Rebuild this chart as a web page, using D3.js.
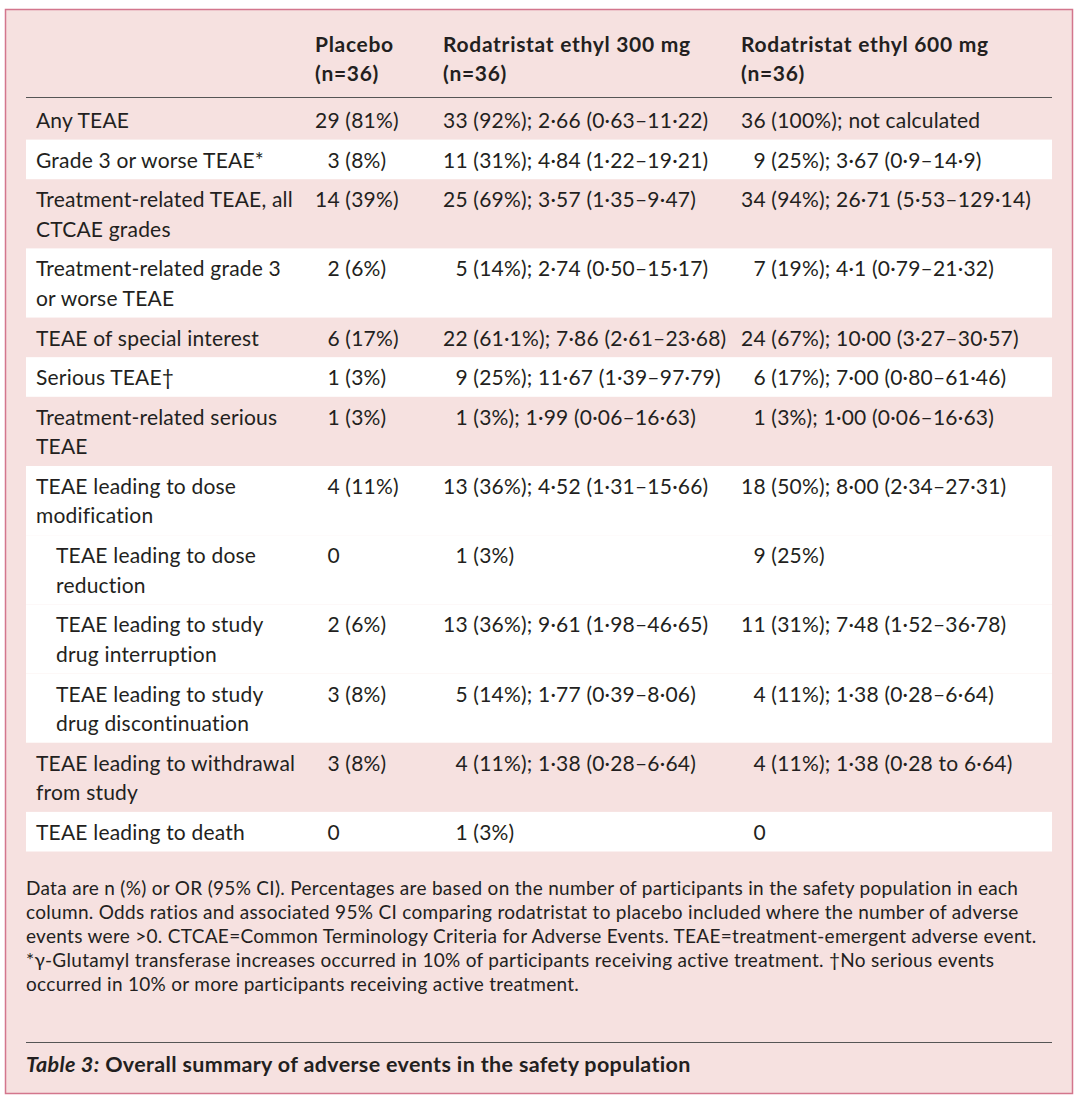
<!DOCTYPE html>
<html><head><meta charset="utf-8">
<script src="https://cdn.jsdelivr.net/npm/d3@7"></script>
<style>html,body{margin:0;padding:0;background:#fff}svg{display:block}text{font-family:Lato,"Noto Sans",sans-serif;fill:#231f20}</style>
</head><body>
<script>
const headers = [["Placebo","(n=36)"],["Rodatristat ethyl 300 mg","(n=36)"],["Rodatristat ethyl 600 mg","(n=36)"]];
const rowLabels = [
  ["Any TEAE"],
  ["Grade 3 or worse TEAE*"],
  ["Treatment-related TEAE, all","CTCAE grades"],
  ["Treatment-related grade 3","or worse TEAE"],
  ["TEAE of special interest"],
  ["Serious TEAE†"],
  ["Treatment-related serious","TEAE"],
  ["TEAE leading to dose","modification"],
  ["TEAE leading to dose","reduction"],
  ["TEAE leading to study","drug interruption"],
  ["TEAE leading to study","drug discontinuation"],
  ["TEAE leading to withdrawal","from study"],
  ["TEAE leading to death"]
];
const indented = [false,false,false,false,false,false,false,false,true,true,true,false,false];
const groups = [0,1,2,3,4,5,6,7,7,7,7,8,9];
const placebo = ["29 (81%)","3 (8%)","14 (39%)","2 (6%)","6 (17%)","1 (3%)","1 (3%)","4 (11%)","0","2 (6%)","3 (8%)","3 (8%)","0"];
const rod300 = ["33 (92%); 2·66 (0·63–11·22)","11 (31%); 4·84 (1·22–19·21)","25 (69%); 3·57 (1·35–9·47)","5 (14%); 2·74 (0·50–15·17)","22 (61·1%); 7·86 (2·61–23·68)","9 (25%); 11·67 (1·39–97·79)","1 (3%); 1·99 (0·06–16·63)","13 (36%); 4·52 (1·31–15·66)","1 (3%)","13 (36%); 9·61 (1·98–46·65)","5 (14%); 1·77 (0·39–8·06)","4 (11%); 1·38 (0·28–6·64)","1 (3%)"];
const rod600 = ["36 (100%); not calculated","9 (25%); 3·67 (0·9–14·9)","34 (94%); 26·71 (5·53–129·14)","7 (19%); 4·1 (0·79–21·32)","24 (67%); 10·00 (3·27–30·57)","6 (17%); 7·00 (0·80–61·46)","1 (3%); 1·00 (0·06–16·63)","18 (50%); 8·00 (2·34–27·31)","9 (25%)","11 (31%); 7·48 (1·52–36·78)","4 (11%); 1·38 (0·28–6·64)","4 (11%); 1·38 (0·28 to 6·64)","0"];
const footnoteLines = [
  "Data are n (%) or OR (95% CI). Percentages are based on the number of participants in the safety population in each",
  "column. Odds ratios and associated 95% CI comparing rodatristat to placebo included where the number of adverse",
  "events were >0. CTCAE=Common Terminology Criteria for Adverse Events. TEAE=treatment-emergent adverse event.",
  "*γ-Glutamyl transferase increases occurred in 10% of participants receiving active treatment. †No serious events",
  "occurred in 10% or more participants receiving active treatment."
];
const captionLabel = "Table 3:";
const captionText = " Overall summary of adverse events in the safety population";

const W = 1080, H = 1100;
const pink = "#f6e1e0", border = "#d3768d";
const svg = d3.select("body").append("svg").attr("width", W).attr("height", H);
svg.append("rect").attr("width", W).attr("height", H).attr("fill", "#fff");
svg.append("rect").attr("x", 5.5).attr("y", 9.5).attr("width", 1067).attr("height", 1084)
  .attr("fill", pink).attr("stroke", border).attr("stroke-width", 1.5);

const left = 26, right = 1052;
const lineH = 29.5, pad = 10;
const FS = 21, LS = 0.2;
const units = rowLabels.map(l => l.length * lineH + pad);
const ends = Array.from(d3.cumsum(units));
const starts = ends.map((e, i) => e - units[i]);
const y = d3.scaleLinear().domain([0, d3.sum(units)]).range([100, 851.5]);
const colX = d3.scaleOrdinal().domain(["label","placebo","rod300","rod600"]).range([36, 315, 443, 741]);

// header
const hdrKeys = ["placebo","rod300","rod600"];
headers.forEach((h, i) => {
  h.forEach((t, j) => {
    svg.append("text").attr("x", colX(hdrKeys[i])).attr("y", 52 + j * 29)
      .attr("font-size", 21).attr("font-weight", 700).attr("letter-spacing", 0.7).text(t);
  });
});
svg.append("line").attr("x1", left).attr("x2", right).attr("y1", 97.5).attr("y2", 97.5)
  .attr("stroke", "#555").attr("stroke-width", 1);

// row backgrounds
const rowsG = svg.append("g");
rowLabels.forEach((l, i) => {
  if (groups[i] % 2 === 1) {
    rowsG.append("rect").attr("x", left).attr("width", right - left)
      .attr("y", y(starts[i])).attr("height", y(ends[i]) - y(starts[i])).attr("fill", "#fff");
  }
});

// measure digit width
const probe = svg.append("text").attr("font-size", FS).attr("letter-spacing", LS).text("00");
const digitW = probe.node().getComputedTextLength() / 2;
probe.remove();

function offset(str) {
  const m = str.match(/^(\d+)/);
  return (m && m[1].length === 1) ? digitW : 0;
}

rowLabels.forEach((lines, i) => {
  const top = y(starts[i]);
  lines.forEach((t, j) => {
    svg.append("text").attr("x", colX("label") + (indented[i] ? 20 : 0))
      .attr("y", top + 28 + j * lineH).attr("font-size", FS).attr("letter-spacing", LS).text(t);
  });
  [["placebo", placebo[i]], ["rod300", rod300[i]], ["rod600", rod600[i]]].forEach(([k, v]) => {
    svg.append("text").attr("x", colX(k) + offset(v)).attr("y", top + 28)
      .attr("font-size", FS).attr("letter-spacing", LS).text(v);
  });
});

// footnote
footnoteLines.forEach((t, i) => {
  svg.append("text").attr("x", left).attr("y", 895 + i * 24).attr("font-size", 19)
    .attr("letter-spacing", 0.3).text(t);
});
svg.append("line").attr("x1", left).attr("x2", right).attr("y1", 1042.5).attr("y2", 1042.5)
  .attr("stroke", "#555").attr("stroke-width", 1);
const cap = svg.append("text").attr("x", left).attr("y", 1072).attr("font-size", 21.5)
  .attr("font-weight", 700).attr("letter-spacing", 0.35);
cap.append("tspan").attr("font-style", "italic").text(captionLabel);
cap.append("tspan").text(captionText);
</script>
</body></html>
